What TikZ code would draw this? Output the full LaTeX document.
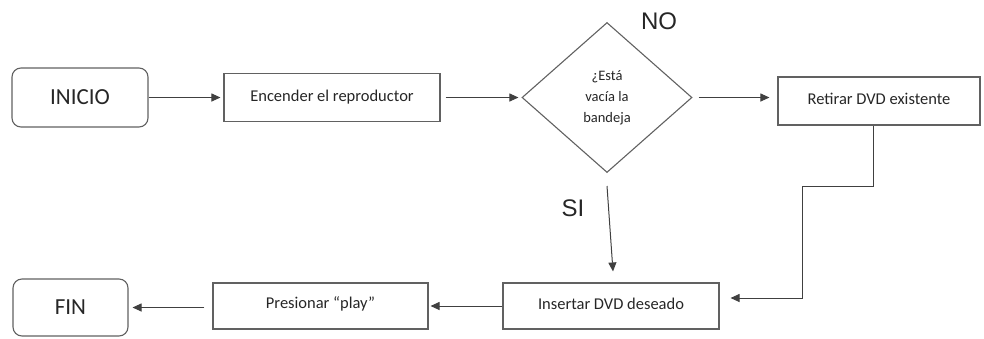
\documentclass[tikz,border=0pt]{standalone}
\usepackage{fontspec}
\setmainfont{Carlito}
\newfontfamily\arialf{Liberation Sans}
\usetikzlibrary{shapes.geometric,arrows.meta,calc}
\begin{document}
\begin{tikzpicture}[x=1pt,y=-1pt,
  box/.style={draw=black!62,line width=1.1pt,rectangle,inner sep=0pt,font=\fontsize{16.5}{20}\selectfont,text=black!85},
  term/.style={draw=black!62,line width=1.1pt,rectangle,rounded corners=9pt,inner sep=0pt,font=\fontsize{23}{27}\selectfont,text=black!85},
  dec/.style={draw=black!62,line width=1.1pt,diamond,inner sep=0pt,minimum width=170pt,minimum height=150pt,align=center,font=\fontsize{14.5}{21}\selectfont,text=black!85},
  lab/.style={font=\arialf\fontsize{24}{28}\selectfont,text=black!85,inner sep=0pt},
  conn/.style={draw=black!75,line width=1pt,-{Triangle[length=9pt,width=8pt]}}]
\useasboundingbox (0,0) rectangle (984,338);
\node[term,minimum width=136pt,minimum height=59pt] (inicio) at (80,97.5) {INICIO};
\node[box,minimum width=216pt,minimum height=48pt] (enc) at (332,97.5) {\raisebox{4pt}{Encender el reproductor}};
\node[dec] (dia) at (607,97.5) {¿Está\\vacía la\\bandeja};
\node[box,minimum width=202pt,minimum height=48pt] (ret) at (879,101) {\raisebox{5pt}{Retirar DVD existente}};
\node[box,minimum width=216pt,minimum height=46pt] (ins) at (611,306) {\raisebox{4pt}{Insertar DVD deseado}};
\node[box,minimum width=215pt,minimum height=46pt] (pres) at (320.5,306) {\raisebox{6pt}{Presionar “play”}};
\node[term,minimum width=115pt,minimum height=57pt] (fin) at (70.5,307.5) {FIN};
\node[lab] (no) at (659,21) {NO};
\node[lab] (si) at (573,208) {SI};
\coordinate (k2) at (802,186);
\coordinate (sistart) at (607,186);
\draw[conn,shorten >=3pt] (inicio.east) -- (inicio.east -| enc.west);
\draw[conn,shorten <=5pt,shorten >=3pt] (enc.east) -- (enc.east -| dia.west);
\draw[conn,shorten <=6pt,shorten >=8pt] (dia.east) -- (dia.east -| ret.west);
\draw[conn,shorten >=11pt] ([xshift=-6pt]ret.south) |- (k2) |- ([yshift=8pt]ins.east);
\draw[conn] (sistart) -- ([xshift=2pt,yshift=11pt]ins.north);
\draw[conn,shorten >=2pt] (ins.west) -- (ins.west -| pres.east);
\draw[conn,shorten <=8pt,shorten >=4pt] (fin.east -| pres.west) -- (fin.east);
\end{tikzpicture}
\end{document}
